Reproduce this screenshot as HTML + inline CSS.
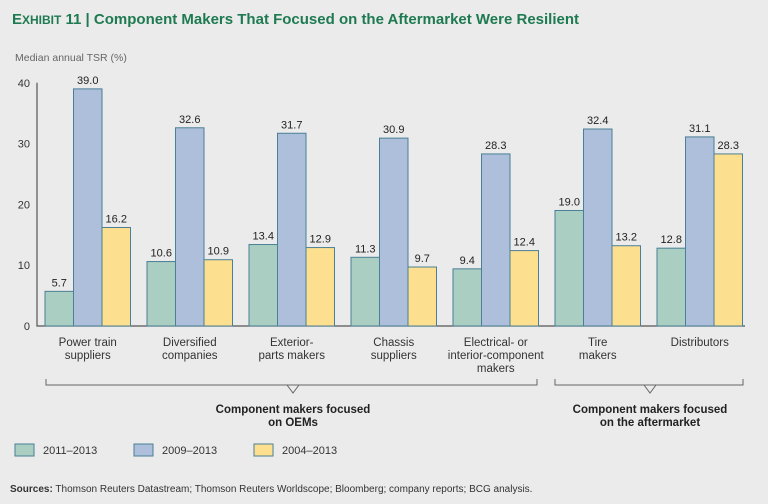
<!DOCTYPE html>
<html><head><meta charset="utf-8"><style>
body{margin:0;background:#ebebeb;}
svg{display:block;font-family:"Liberation Sans",sans-serif;}
</style></head><body>
<svg id="c" width="768" height="504">
<text x="12" y="24" fill="#1e7a50" font-size="15" font-weight="bold">E<tspan font-size="12">XHIBIT</tspan> 11 | Component Makers That Focused on the Aftermarket Were Resilient</text>
<text x="15" y="61" fill="#666" font-size="10.5">Median annual TSR (%)</text>
<g id="plot"></g>
<path d="M46,379 V385 H537 V379 M287,385 L293,393 L299,385" fill="none" stroke="#666" stroke-width="1"/>
<path d="M555,379 V385 H743 V379 M644,385 L650,393 L656,385" fill="none" stroke="#666" stroke-width="1"/>
<text x="293" y="413" text-anchor="middle" font-size="11.5" font-weight="bold" fill="#222"><tspan x="293">Component makers focused</tspan><tspan x="293" dy="13">on OEMs</tspan></text>
<text x="650" y="413" text-anchor="middle" font-size="11.5" font-weight="bold" fill="#222"><tspan x="650">Component makers focused</tspan><tspan x="650" dy="13">on the aftermarket</tspan></text>
<g id="legend"></g>
<text x="10" y="492" font-size="10" fill="#333"><tspan font-weight="bold">Sources:</tspan> Thomson Reuters Datastream; Thomson Reuters Worldscope; Bloomberg; company reports; BCG analysis.</text>
</svg>
<script>
const categories=[["Power train","suppliers"],["Diversified","companies"],["Exterior-","parts makers"],["Chassis","suppliers"],["Electrical- or","interior-component","makers"],["Tire","makers"],["Distributors"]];
const series1=[5.7,10.6,13.4,11.3,9.4,19.0,12.8];
const series2=[39.0,32.6,31.7,30.9,28.3,32.4,31.1];
const series3=[16.2,10.9,12.9,9.7,12.4,13.2,28.3];
const seriesNames=["2011–2013","2009–2013","2004–2013"];
const yTicks=[0,10,20,30,40];
const NS="http://www.w3.org/2000/svg";
const fills=["#aacfc2","#aebfdc","#fde08f"];
const stroke="#4a7f95";
const y=v=>326-v*6.08;
const gx=i=>45+i*102;
const bw=28.5;
const plot=document.getElementById('plot');
function mk(t,a,p){const e=document.createElementNS(NS,t);for(const k in a)e.setAttribute(k,a[k]);(p||plot).appendChild(e);return e;}
yTicks.forEach(t=>{const e=mk('text',{x:30,y:y(t)+4,'text-anchor':'end','font-size':11,fill:'#333'});e.textContent=t;

});
const ax=mk('path',{d:`M37,${y(40)} V326 H745`,stroke:'#555',fill:'none','stroke-width':1.2});


[series1,series2,series3].forEach((s,k)=>{s.forEach((v,i)=>{const x=gx(i)+k*bw;
const r=mk('rect',{x:x,y:y(v),width:bw,height:326-y(v),fill:fills[k],stroke:stroke,'stroke-width':1});


const t=mk('text',{x:x+bw/2,y:y(v)-5,'text-anchor':'middle','font-size':11,fill:'#222'});t.textContent=v.toFixed(1);

});});
categories.forEach((c,i)=>{const t=mk('text',{'text-anchor':'middle','font-size':11.5,fill:'#333'});


c.forEach((l,j)=>{const s=mk('tspan',{x:gx(i)+bw*1.5,y:346+j*13},t);s.textContent=l;});});
const lg=document.getElementById('legend');
const lx=[15,134,254];
seriesNames.forEach((n,k)=>{const r=mk('rect',{x:lx[k],y:444,width:19,height:12,fill:fills[k],stroke:stroke},lg);


const t=mk('text',{x:lx[k]+28,y:454,'font-size':11,fill:'#333'},lg);t.textContent=n;

});
</script>
</body></html>
